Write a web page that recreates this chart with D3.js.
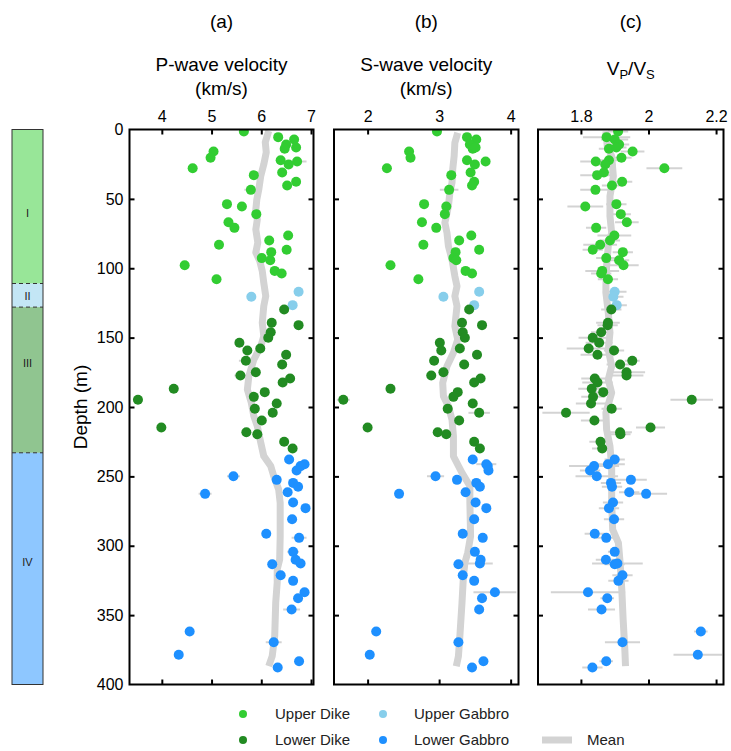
<!DOCTYPE html>
<html><head><meta charset="utf-8">
<script src="https://cdn.jsdelivr.net/npm/d3@7"></script>
<style>body{margin:0;background:#fff;} text{font-family:"Liberation Sans",Arial,Helvetica,sans-serif;}</style>
</head><body><svg id="chart" width="731" height="751"></svg>
<script>
// ---------- tick labels ----------
const depthTicks = [0,50,100,150,200,250,300,350,400];
const vpTicks = [4,5,6,7];
const vsTicks = [2,3,4];
const ratioTicks = [1.8,2,2.2];

// ---------- Upper Dike ----------
const udDepth = [1.5,5.5,7.2,10.8,13.9,13.0,15.9,20.4,22.1,23.1,25.2,27.9,31.0,32.9,37.7,40.4,43.5,53.8,55.5,61.0,66.8,70.9,76.4,80.0,83.1,86.7,88.4,92.7,94.2,97.8,101.9,103.8,107.9];
const udVp = [5.65,6.34,6.66,6.50,6.47,6.70,5.04,4.98,6.39,6.72,6.55,4.62,6.42,5.85,6.70,6.52,5.79,5.31,5.61,5.90,5.34,5.46,6.54,6.16,5.15,6.51,6.20,6.01,6.18,4.46,6.27,6.41,5.10];
const udVs = [2.97,3.39,3.52,3.43,3.47,3.51,2.58,2.60,3.39,3.65,3.50,2.27,3.44,3.17,3.49,3.46,3.14,2.79,3.10,3.08,2.76,2.96,3.45,3.28,2.78,3.56,3.23,3.20,3.24,2.32,3.37,3.46,2.71];
const udR = [1.91,1.876,1.90,1.913,1.883,1.905,1.953,1.92,1.883,1.844,1.872,2.047,1.868,1.848,1.922,1.892,1.843,1.905,1.813,1.918,1.936,1.845,1.899,1.886,1.857,1.835,1.924,1.875,1.913,1.926,1.863,1.86,1.88];
const udVpErr = [0.04,0.04,0.04,0.04,0.04,0.04,0.04,0.04,0.04,0.19,0.04,0.04,0.04,0.04,0.04,0.04,0.13,0.04,0.04,0.04,0.04,0.04,0.04,0.04,0.04,0.04,0.04,0.04,0.04,0.04,0.04,0.04,0.04];
const udVsErr = [0.03,0.03,0.03,0.03,0.03,0.03,0.03,0.03,0.03,0.03,0.03,0.03,0.03,0.03,0.03,0.03,0.13,0.03,0.03,0.03,0.03,0.03,0.03,0.03,0.03,0.03,0.03,0.03,0.03,0.03,0.03,0.03,0.03];
const udRErr = [0.03,0.07,0.04,0.03,0.03,0.03,0.035,0.03,0.03,0.046,0.03,0.053,0.03,0.05,0.03,0.03,0.045,0.03,0.053,0.03,0.035,0.03,0.05,0.03,0.05,0.03,0.03,0.03,0.03,0.045,0.05,0.03,0.03];

// ---------- Upper Gabbro ----------
const ugDepth = [117.0,120.6,126.6];
const ugVp = [6.75,5.80,6.63];
const ugVs = [3.56,3.06,3.49];
const ugR = [1.90,1.896,1.906];
const ugVpErr = [0.04,0.04,0.04];
const ugVsErr = [0.03,0.03,0.03];
const ugRErr = [0.035,0.03,0.03];

// ---------- Lower Dike ----------
const ldDepth = [129.7,139.3,141.0,146.1,150.1,153.7,157.8,159.3,162.4,166.7,169.4,174.9,177.3,179.5,182.3,186.9,189.3,192.7,194.8,197.5,201.3,204.2,209.7,214.8,218.2,219.6,225.1,229.9];
const ldVp = [6.46,6.21,6.75,6.19,6.14,5.56,5.98,5.72,6.50,5.69,6.42,5.89,5.58,6.58,6.43,4.24,6.07,5.85,3.52,6.31,5.87,6.23,6.01,3.99,5.70,5.92,6.46,6.63];
const ldVs = [3.42,3.32,3.60,3.33,3.36,3.01,3.29,3.03,3.53,2.93,3.35,3.06,2.89,3.58,3.49,2.32,3.26,3.20,1.66,3.47,3.12,3.56,3.28,2.00,2.98,3.10,3.49,3.57];
const ldR = [1.890,1.880,1.879,1.860,1.835,1.854,1.823,1.898,1.849,1.952,1.916,1.935,1.935,1.841,1.849,1.832,1.866,1.836,2.128,1.830,1.891,1.756,1.840,2.006,1.916,1.917,1.858,1.863];
const ldVpErr = [0.05,0.05,0.05,0.05,0.05,0.05,0.05,0.05,0.05,0.14,0.05,0.05,0.12,0.05,0.05,0.05,0.05,0.05,0.08,0.05,0.05,0.05,0.05,0.05,0.05,0.05,0.05,0.05];
const ldVsErr = [0.03,0.03,0.03,0.03,0.03,0.03,0.03,0.03,0.03,0.05,0.03,0.03,0.03,0.03,0.03,0.03,0.03,0.03,0.09,0.03,0.03,0.15,0.03,0.03,0.03,0.03,0.03,0.03];
const ldRErr = [0.03,0.035,0.03,0.03,0.042,0.04,0.065,0.03,0.05,0.022,0.04,0.055,0.05,0.04,0.045,0.04,0.03,0.035,0.063,0.045,0.03,0.07,0.04,0.043,0.035,0.03,0.033,0.03];

// ---------- Lower Gabbro ----------
const lgDepth = [237.8,241.2,242.6,245.8,249.9,252.5,254.7,257.5,261.4,262.6,268.8,272.9,280.9,291.4,294.3,304.4,310.1,312.8,313.3,321.2,325.3,333.5,337.8,345.9,361.8,369.5,378.6,383.2,387.7];
const lgVp = [6.56,6.87,6.79,6.71,5.44,6.31,6.64,6.74,6.53,4.87,6.64,6.89,6.62,6.10,6.76,6.64,6.69,6.79,6.22,6.39,6.64,6.87,6.74,6.61,4.56,6.25,4.34,6.76,6.33];
const lgVs = [3.47,3.66,3.68,3.69,2.95,3.25,3.52,3.57,3.37,2.44,3.51,3.66,3.49,3.33,3.61,3.50,3.58,3.57,3.27,3.33,3.49,3.78,3.60,3.56,2.12,3.27,2.03,3.62,3.46];
const lgR = [1.90,1.88,1.839,1.827,1.847,1.948,1.889,1.892,1.943,1.993,1.895,1.883,1.898,1.841,1.875,1.90,1.874,1.908,1.90,1.923,1.911,1.821,1.878,1.861,2.155,1.923,2.146,1.875,1.834];
const lgVpErr = [0.05,0.05,0.05,0.05,0.13,0.05,0.05,0.05,0.05,0.13,0.05,0.05,0.05,0.05,0.15,0.12,0.05,0.05,0.05,0.05,0.05,0.05,0.05,0.17,0.05,0.16,0.05,0.05,0.05];
const lgVsErr = [0.03,0.14,0.03,0.03,0.12,0.03,0.03,0.03,0.03,0.03,0.03,0.03,0.03,0.03,0.03,0.03,0.03,0.18,0.03,0.03,0.03,0.30,0.03,0.03,0.03,0.03,0.03,0.03,0.03];
const lgRErr = [0.03,0.05,0.074,0.03,0.063,0.047,0.03,0.03,0.03,0.062,0.03,0.03,0.03,0.03,0.03,0.02,0.03,0.075,0.03,0.03,0.03,0.11,0.02,0.04,0.02,0.052,0.072,0.02,0.03];

// ---------- Mean profiles ----------
const meanVpDepth = [1,9.2,16.4,25.2,33.4,43.2,50.5,57.7,64.9,72.1,81.5,88.6,94.9,102.1,110.5,120.1,127.3,139.3,149,156.2,165.8,177.8,187.4,197,206.6,213.8,225.8,235.4,242.6,249.8,259.5,269.1,293,309.9,317.1,326.7,341.1,365.1,379.5,386.7];
const meanVp = [6.15,6.08,6.10,6.05,5.99,5.95,5.91,5.89,5.92,5.89,5.93,5.89,5.97,6.02,6.05,6.09,6.05,6.02,6.05,5.99,5.85,5.75,5.72,5.80,5.85,5.92,5.99,6.05,6.19,6.25,6.35,6.38,6.38,6.37,6.32,6.32,6.29,6.27,6.22,6.15];
const meanVsDepth = [2.4,9.6,19.2,28.8,38.4,45.6,55.3,67.2,74.5,84.1,93.7,105.7,112.9,120.1,127.3,141.8,151.4,160.9,170.6,182.6,192.2,199.4,209,221,235.5,247.4,257,269,293,305,312.3,322,341,365.2,379.6,386.8];
const meanVs = [3.26,3.22,3.21,3.19,3.18,3.15,3.13,3.08,3.11,3.13,3.18,3.22,3.25,3.22,3.25,3.22,3.26,3.20,3.11,3.05,3.06,3.13,3.18,3.20,3.20,3.32,3.43,3.43,3.44,3.40,3.36,3.34,3.32,3.29,3.27,3.24];
const meanRDepth = [1.2,12,19.2,33.7,48,62.5,74.5,84.1,98.5,113,117.7,132,146.5,158.6,170.6,180.2,189.8,204.2,216.2,228.3,242.7,252.3,269,288.3,297.9,312.3,331.5,353.2,374.8,386.8];
const meanR = [1.874,1.878,1.891,1.896,1.886,1.886,1.891,1.881,1.876,1.874,1.874,1.881,1.886,1.881,1.891,1.881,1.891,1.874,1.876,1.886,1.891,1.891,1.891,1.894,1.911,1.916,1.921,1.925,1.930,1.932];

// ---------- Units column ----------
const unitNames = ["I","II","III","IV"];
const unitTops = [0,111,128,233];
const unitBottoms = [111,128,233,400];
const unitLabelDepth = [60,120,168,312];

// ---------- legend ----------
const legendNames = ["Upper Dike","Lower Dike","Upper Gabbro","Lower Gabbro","Mean"];

// ============ drawing ============
const svg = d3.select("#chart");
const FONT = '"Liberation Sans",Arial,Helvetica,sans-serif';
const y = d3.scaleLinear().domain([0,400]).range([129.5,684.5]);

const colors = {ud:"#32cd32", ld:"#228b22", ug:"#87ceeb", lg:"#1e90ff"};
const meanColor = "#d3d3d3";

const groups = [
  {c:colors.ud, d:udDepth, vp:udVp, vs:udVs, r:udR, vpE:udVpErr, vsE:udVsErr, rE:udRErr},
  {c:colors.ug, d:ugDepth, vp:ugVp, vs:ugVs, r:ugR, vpE:ugVpErr, vsE:ugVsErr, rE:ugRErr},
  {c:colors.ld, d:ldDepth, vp:ldVp, vs:ldVs, r:ldR, vpE:ldVpErr, vsE:ldVsErr, rE:ldRErr},
  {c:colors.lg, d:lgDepth, vp:lgVp, vs:lgVs, r:lgR, vpE:lgVpErr, vsE:lgVsErr, rE:lgRErr}
];

const panels = [
  {key:"vp", err:"vpE", left:129.5, right:313.5, domain:[3.35,7.05], ticks:vpTicks, tag:"(a)", title:["P-wave velocity","(km/s)"], md:meanVpDepth, mv:meanVp, depthLabels:true, fmt:d3.format("d")},
  {key:"vs", err:"vsE", left:334, right:518.5, domain:[1.53,4.11], ticks:vsTicks, tag:"(b)", title:["S-wave velocity","(km/s)"], md:meanVsDepth, mv:meanVs, depthLabels:false, fmt:d3.format("d")},
  {key:"r", err:"rE", left:538, right:723.5, domain:[1.673,2.222], ticks:ratioTicks, tag:"(c)", title:null, md:meanRDepth, mv:meanR, depthLabels:false, fmt:(d)=> d===2?"2":d3.format(".1f")(d)}
];

panels.forEach((p,i)=>{
  const x = d3.scaleLinear().domain(p.domain).range([p.left,p.right]);
  const g = svg.append("g");
  const cx = (p.left+p.right)/2;
  const clipId = "clip"+i;
  svg.append("clipPath").attr("id",clipId).append("rect")
    .attr("x",p.left).attr("y",y(0)).attr("width",p.right-p.left).attr("height",y(400)-y(0));

  // titles
  g.append("text").attr("x",cx).attr("y",28).attr("text-anchor","middle")
    .attr("font-size",19).attr("font-family",FONT).text(p.tag);
  if(p.title){
    g.append("text").attr("x",cx).attr("y",71).attr("text-anchor","middle")
      .attr("font-size",19).attr("font-family",FONT).text(p.title[0]);
    g.append("text").attr("x",cx).attr("y",95).attr("text-anchor","middle")
      .attr("font-size",19).attr("font-family",FONT).text(p.title[1]);
  } else {
    const t = g.append("text").attr("x",cx).attr("y",75).attr("text-anchor","middle")
      .attr("font-size",19).attr("font-family",FONT);
    t.append("tspan").text("V");
    t.append("tspan").attr("font-size",13).attr("dy",4).text("P");
    t.append("tspan").attr("dy",-4).text("/V");
    t.append("tspan").attr("font-size",13).attr("dy",4).text("S");
  }

  // axes (inward ticks)
  const top = g.append("g").attr("transform",`translate(0,${y(0)})`)
    .call(d3.axisTop(x).tickValues(p.ticks).tickFormat(p.fmt).tickSize(-5).tickPadding(8));
  const bottom = g.append("g").attr("transform",`translate(0,${y(400)})`)
    .call(d3.axisBottom(x).tickValues(p.ticks).tickFormat("").tickSize(-5));
  const leftAx = g.append("g").attr("transform",`translate(${p.left},0)`)
    .call(d3.axisLeft(y).tickValues(depthTicks).tickFormat(p.depthLabels? d3.format("d") : "").tickSize(-5).tickPadding(6));
  const rightAx = g.append("g").attr("transform",`translate(${p.right},0)`)
    .call(d3.axisRight(y).tickValues(depthTicks.filter(d=>d>0&&d<400)).tickFormat("").tickSize(-5));
  [top,bottom,leftAx,rightAx].forEach(a=>{
    a.select(".domain").remove();
    a.selectAll(".tick line").attr("stroke","#000").attr("stroke-width",2);
    a.selectAll(".tick text").attr("font-size",16).attr("font-family",FONT).attr("fill","#000");
  });
  leftAx.selectAll(".tick line").filter(d=>d===0||d===400).remove();

  const plot = g.append("g").attr("clip-path",`url(#${clipId})`);

  // error bars
  groups.forEach(G=>{
    plot.selectAll(null).data(G.d.map((d,j)=>({d, v:G[p.key][j], e:G[p.err][j]})))
      .join("line")
      .attr("x1",o=>x(o.v-o.e)).attr("x2",o=>x(o.v+o.e))
      .attr("y1",o=>y(o.d)).attr("y2",o=>y(o.d))
      .attr("stroke",meanColor).attr("stroke-width",2);
  });

  // mean line
  const line = d3.line().x(o=>x(o[1])).y(o=>y(o[0])).curve(d3.curveLinear);
  plot.append("path").datum(p.md.map((d,j)=>[d,p.mv[j]]))
    .attr("d",line).attr("fill","none").attr("stroke",meanColor).attr("stroke-width",7)
    .attr("stroke-linejoin","round");

  // points
  groups.forEach(G=>{
    plot.selectAll(null).data(G.d.map((d,j)=>({d, v:G[p.key][j]})))
      .join("circle")
      .attr("cx",o=>x(o.v)).attr("cy",o=>y(o.d)).attr("r",5)
      .attr("fill",G.c);
  });

  // frame
  g.append("rect").attr("x",p.left).attr("y",y(0)).attr("width",p.right-p.left).attr("height",y(400)-y(0))
    .attr("fill","none").attr("stroke","#000").attr("stroke-width",2);
});

// depth label
svg.append("text").attr("transform",`translate(87,${(y(0)+y(400))/2}) rotate(-90)`)
  .attr("text-anchor","middle").attr("font-size",19).attr("font-family",FONT).text("Depth (m)");

// units column
const unitFill = [colors.ud, colors.ug, colors.ld, colors.lg];
const col = svg.append("g");
unitNames.forEach((n,i)=>{
  col.append("rect").attr("x",12).attr("width",31)
    .attr("y",y(unitTops[i])).attr("height",y(unitBottoms[i])-y(unitTops[i]))
    .attr("fill",unitFill[i]).attr("fill-opacity",0.5);
  col.append("text").attr("x",27.5).attr("y",y(unitLabelDepth[i])+4).attr("text-anchor","middle")
    .attr("font-size",11).attr("font-family",FONT).attr("fill","#222").text(n);
});
[1,2,3].forEach(i=>{
  col.append("line").attr("x1",12).attr("x2",43).attr("y1",y(unitTops[i])).attr("y2",y(unitTops[i]))
    .attr("stroke","#333").attr("stroke-width",1).attr("stroke-dasharray","4,3");
});
col.append("rect").attr("x",12).attr("y",y(0)).attr("width",31).attr("height",y(400)-y(0))
  .attr("fill","none").attr("stroke","#333").attr("stroke-width",1);

// legend
const leg = svg.append("g").attr("font-family",FONT).attr("font-size",15).attr("fill","#222");
const legItems = [
  {n:legendNames[0], c:colors.ud, mx:243, tx:275, y:714},
  {n:legendNames[1], c:colors.ld, mx:243, tx:275, y:740},
  {n:legendNames[2], c:colors.ug, mx:383, tx:414, y:714},
  {n:legendNames[3], c:colors.lg, mx:383, tx:414, y:740}
];
legItems.forEach(it=>{
  leg.append("circle").attr("cx",it.mx).attr("cy",it.y).attr("r",4).attr("fill",it.c);
  leg.append("text").attr("x",it.tx).attr("y",it.y+5).text(it.n);
});
leg.append("rect").attr("x",542).attr("y",736.5).attr("width",30).attr("height",7).attr("fill",meanColor);
leg.append("text").attr("x",587).attr("y",745).text(legendNames[4]);
</script>
</body></html>
